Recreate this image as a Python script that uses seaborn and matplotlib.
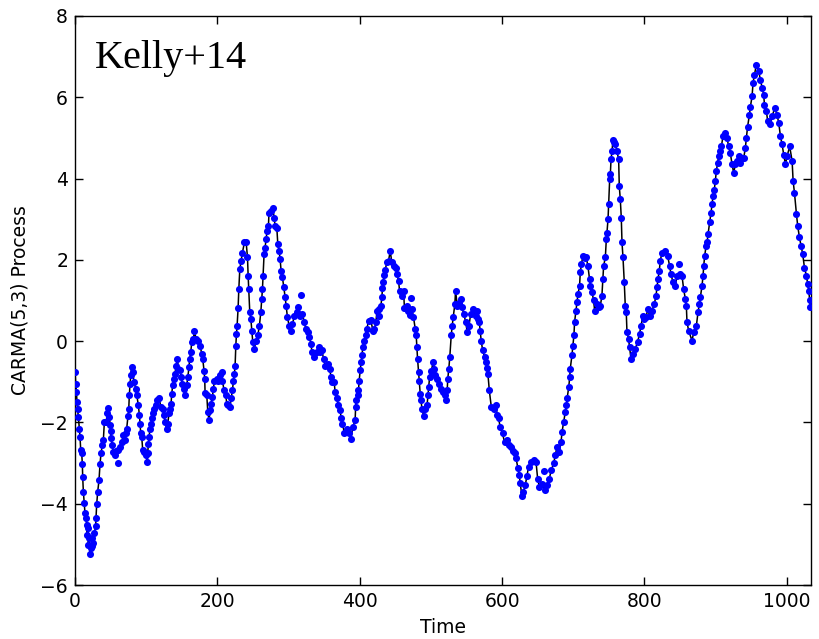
import numpy as np
import pandas as pd
import matplotlib
matplotlib.use("Agg")
import matplotlib.pyplot as plt
import seaborn as sns

# ---- data ----
time = [0, 1, 2, 2.8, 3.5, 4.7, 6, 7, 8, 9.4, 10.3, 10.8, 11.7, 13, 14, 15.5, 16.4, 17.3, 17.8, 18.7,
        19.7, 21, 22.5, 23.4, 24.5, 25.8, 27.2, 29, 29.5, 30.5, 31.9, 33.7, 35.1, 36.5, 38.4, 39.8, 41.2, 43.6, 45.4, 46.8,
        48.2, 49.5, 50.2, 50.6, 52.4, 53.8, 55.8, 58, 60.9, 63.2, 65.6, 68, 70.3, 71.7, 72.6, 74.5, 75.5, 76.3, 77.3, 78.3,
        79.7, 81, 82.9, 85.3, 86.7, 89, 90.4, 91.4, 92.3, 93.7, 95.1, 97, 99.3, 101.6, 102.1, 103, 104, 105.4, 106.8, 108.6,
        110, 111, 113.8, 115.7, 118.5, 120.4, 123.3, 125, 126.5, 128.8, 130.2, 132.1, 133.5, 134.9, 135.9, 137.3, 139.1, 140.5, 142, 143.8,
        145.2, 147.6, 149, 150.9, 152.8, 154.6, 157, 158.4, 160.2, 161, 162.6, 164, 166.3, 167.7, 170, 173.3, 175.7, 178, 179.4, 181.3,
        182.2, 182.7, 185.1, 186.5, 188.3, 189.7, 191.1, 193, 194.4, 195.8, 199.2, 201.4, 203.8, 206.2, 207, 209.4, 211.8, 213.2, 215.5, 217.8,
        219.3, 221.1, 222.5, 223.9, 224.9, 225.9, 226.8, 227.7, 229.1, 230.1, 231.5, 233.4, 235.2, 238, 240.4, 242.3, 243.2, 244.1, 245.5, 247,
        248.3, 249.7, 252.1, 254, 256.8, 259, 261, 262.4, 263.3, 264.2, 265.6, 267, 268.4, 269.8, 271.7, 272.5, 275, 277.8, 279.7, 281.1,
        283.5, 284.9, 286.7, 288.1, 289.5, 291.4, 293.3, 295.2, 296.6, 298.4, 300.8, 303.6, 305.4, 308.3, 311.6, 313.9, 316.3, 319.5, 322, 324.3,
        327.1, 329, 331.7, 332.7, 336, 339.8, 342.1, 344.5, 346.8, 349.1, 351.5, 355.2, 357.5, 359.8, 361.6, 364, 365.4, 367.8, 370.1, 372.5,
        373.9, 375.7, 378.5, 381.8, 384.2, 387.5, 390.3, 393.5, 394.2, 395, 397.4, 398.2, 399.2, 400.6, 402, 403, 404.4, 406.2, 408.1, 410,
        412.3, 415.6, 418.5, 420.7, 422.7, 424.1, 426.4, 427.7, 429.7, 431.1, 431.9, 432.9, 434.3, 435.7, 438.1, 440.4, 442.8, 445.1, 448.4, 451.2,
        452.1, 454.5, 455.9, 459.2, 461.5, 462.8, 466.2, 468.4, 470.8, 473.2, 475.5, 477.9, 479.3, 480.3, 481.2, 482.6, 483.6, 485, 486, 487.4,
        489.7, 492.1, 494.5, 495.9, 496.8, 498.2, 500.6, 503, 504.8, 506.2, 508.6, 511.9, 514.3, 517.1, 519.4, 521.8, 522.8, 523.7, 525.1, 526.5,
        528.5, 529.9, 531.3, 533.6, 534.6, 537, 539, 541.7, 543.1, 546.4, 548.7, 551.1, 553.5, 555.8, 559.6, 562.9, 564.6, 566.2, 567.9, 569.2,
        570.6, 572.5, 575.3, 577.2, 578.7, 580, 582, 584.8, 588, 591.3, 593, 595, 597.3, 600.6, 603.4, 606.7, 609, 611.9, 614.7, 617.4,
        619.5, 622.2, 624.1, 625.4, 627.8, 630, 632.5, 634.8, 637.1, 640.9, 644.2, 647.6, 649.9, 652.3, 656, 660.8, 663.1, 666.3, 669.1, 672.4,
        674.8, 677.1, 680.4, 682.8, 684.2, 686.5, 688.9, 690.3, 691.3, 693.6, 695, 695.7, 698.1, 699.5, 700.9, 701.8, 703.7, 705.2, 706.6, 708.8,
        709.8, 711.5, 713.5, 716, 718.2, 720.5, 722.8, 724, 726.2, 728.5, 730, 733.3, 735.5, 738, 740.2, 741.6, 742.6, 745, 746.4, 747.3,
        748.8, 749.7, 751.1, 752, 753, 754.4, 755.7, 757, 759, 761.4, 763.7, 764.6, 766, 767.4, 768.4, 769.8, 771.6, 773, 774.4, 775.4,
        777.6, 779, 781, 783.8, 787, 790.3, 793.1, 795.1, 797.9, 799.7, 802.5, 804.4, 807.2, 810.5, 813.8, 816.2, 817.5, 819, 820.8, 822.2,
        824.6, 829.2, 832.5, 835.3, 837.2, 840, 843.3, 845.7, 849.3, 852.7, 855, 857.4, 858.8, 859.7, 862, 866.8, 869.1, 872.9, 875.2, 877.1,
        878.5, 880.8, 882.3, 883.2, 884.6, 886.5, 887.9, 889.3, 891.5, 893.5, 894.9, 896.3, 898.1, 899.5, 900.9, 902.8, 904.2, 905.6, 908, 910.3,
        912.6, 916, 918.2, 920.6, 923, 925.3, 927.7, 930, 932.3, 934.7, 937, 939.3, 941.7, 943.1, 944.9, 947.4, 948.8, 951.1, 952.5, 954.4,
        957.2, 960.4, 962.8, 965.2, 967.5, 968.5, 971.3, 973.1, 976.9, 979.3, 983, 986.2, 988.6, 991, 993.3, 995.6, 998, 1000.3, 1004, 1007.4,
        1008.8, 1010.7, 1013.5, 1015.3, 1017.7, 1020, 1022.3, 1024.7, 1027.5, 1029.3, 1030.7, 1032.2, 1033.1]

value = [-0.75, -1.05, -1.25, -1.5, -1.66, -1.86, -2.15, -2.35, -2.68, -2.76, -3.03, -3.35, -3.7, -3.99, -4.23, -4.36, -4.52, -4.76, -4.6, -5.01,
         -4.85, -5.24, -5.1, -5.05, -4.85, -4.97, -4.72, -4.56, -4.34, -4.0, -3.7, -3.42, -3.03, -2.76, -2.56, -2.44, -1.99, -1.99, -1.78, -1.64,
         -1.86, -2.07, -2.2, -2.39, -2.56, -2.72, -2.8, -2.7, -2.68, -2.6, -2.48, -2.31, -2.44, -2.27, -2.15, -1.84, -1.66, -1.33, -1.05, -0.84,
         -0.64, -0.76, -1.0, -1.17, -1.33, -1.58, -1.82, -2.03, -2.27, -2.35, -2.68, -2.72, -2.8, -2.97, -2.74, -2.54, -2.35, -2.17, -2.03, -1.9,
         -1.78, -1.66, -1.58, -1.46, -1.41, -1.62, -1.66, -1.82, -1.99, -2.17, -2.03, -1.78, -1.66, -1.54, -1.29, -1.07, -0.92, -0.8, -0.6, -0.43,
         -0.68, -0.72, -0.88, -1.05, -1.17, -1.33, -1.09, -0.88, -0.64, -0.43, -0.27, -0.02, 0.06, 0.24, 0.06, 0.01, -0.11, -0.31, -0.43, -0.74,
         -0.92, -1.27, -1.33, -1.74, -1.95, -1.7, -1.54, -1.37, -1.17, -0.97, -0.92, -0.97, -0.84, -0.76, -0.97, -1.21, -1.33, -1.54, -1.58, -1.62,
         -1.41, -1.21, -0.99, -0.8, -0.6, -0.11, 0.18, 0.38, 0.81, 1.28, 1.77, 1.98, 2.18, 2.43, 2.43, 2.06, 1.61, 1.28, 0.71, 0.55,
         0.26, -0.02, -0.19, 0.01, 0.14, 0.38, 0.71, 1.04, 1.28, 1.61, 2.14, 2.3, 2.51, 2.71, 2.83, 3.16, 3.2, 3.28, 3.04, 2.83,
         2.79, 2.38, 2.22, 2.02, 1.73, 1.57, 1.32, 1.08, 0.86, 0.59, 0.38, 0.26, 0.42, 0.63, 0.71, 0.83, 0.63, 0.67, 0.47, 0.3,
         0.22, 0.1, -0.07, -0.27, -0.39, -0.27, -0.15, -0.27, -0.23, -0.43, -0.6, -0.56, -0.68, -0.88, -1.0, -1.0, -1.25, -1.41, -1.58, -1.7,
         -1.9, -2.03, -2.27, -2.15, -2.27, -2.41, -2.11, -1.95, -1.62, -1.46, -1.33, -1.21, -0.97, -0.72, -0.51, -0.35, -0.15, 0.01, 0.14, 0.3,
         0.5, 0.53, 0.24, 0.3, 0.47, 0.73, 0.61, 0.79, 0.87, 1.08, 1.3, 1.46, 1.63, 1.75, 1.94, 1.98, 2.21, 1.94, 1.85, 1.79,
         1.65, 1.49, 1.24, 1.1, 1.24, 0.81, 0.87, 0.75, 0.64, 0.79, 0.59, 0.3, 0.14, -0.15, -0.43, -0.76, -0.99, -1.31, -1.46, -1.66,
         -1.84, -1.66, -1.58, -1.33, -1.13, -0.88, -0.74, -0.51, -0.68, -0.84, -0.92, -1.05, -1.17, -1.25, -1.33, -1.46, -1.21, -0.92, -0.68, -0.39,
         0.14, 0.38, 0.59, 0.91, 1.24, 0.87, 0.95, 1.04, 0.83, 0.67, 0.47, 0.22, 0.38, 0.67, 0.79, 0.63, 0.75, 0.55, 0.47, 0.26,
         0.01, -0.21, -0.39, -0.51, -0.66, -0.8, -1.21, -1.62, -1.66, -1.58, -1.82, -1.9, -2.11, -2.27, -2.49, -2.44, -2.56, -2.6, -2.71, -2.75,
         -2.87, -3.13, -3.29, -3.5, -3.8, -3.7, -3.54, -3.33, -3.09, -2.97, -2.93, -2.97, -3.38, -3.58, -3.52, -3.66, -3.54, -3.38, -3.17, -3.01,
         -2.8, -2.6, -2.72, -2.48, -2.23, -1.99, -1.74, -1.58, -1.41, -1.13, -0.88, -0.68, -0.35, -0.11, 0.15, 0.47, 0.75, 0.96, 1.16, 1.36,
         1.69, 1.9, 2.1, 2.05, 2.06, 1.85, 1.53, 1.36, 1.22, 1.0, 0.75, 0.91, 0.83, 0.87, 1.12, 1.53, 1.85, 2.06, 2.51, 2.67,
         3.01, 3.37, 3.98, 4.1, 4.47, 4.67, 4.96, 4.9, 4.84, 4.67, 4.47, 3.81, 3.49, 3.04, 2.43, 2.06, 1.45, 0.87, 0.71, 0.22,
         0.06, -0.15, -0.43, -0.31, -0.19, -0.02, 0.18, 0.38, 0.63, 0.55, 0.59, 0.79, 0.63, 0.75, 0.91, 1.12, 1.32, 1.53, 1.73, 1.98,
         2.18, 2.22, 2.1, 1.85, 1.65, 1.45, 1.36, 1.61, 1.65, 1.61, 1.28, 1.04, 0.87, 0.47, 0.26, 0.01, 0.22, 0.38, 0.71, 0.91,
         1.08, 1.36, 1.61, 1.85, 2.1, 2.34, 2.43, 2.63, 2.92, 3.16, 3.37, 3.57, 3.73, 3.94, 4.18, 4.39, 4.55, 4.67, 4.79, 5.04,
         5.12, 5.0, 4.79, 4.63, 4.35, 4.14, 4.35, 4.43, 4.55, 4.39, 4.51, 4.5, 4.75, 5.0, 5.28, 5.57, 5.77, 6.02, 6.35, 6.55,
         6.8, 6.65, 6.43, 6.24, 6.06, 5.82, 5.65, 5.41, 5.33, 5.53, 5.74, 5.57, 5.37, 5.04, 4.84, 4.59, 4.35, 4.55, 4.79, 4.43,
         3.94, 3.65, 3.12, 2.83, 2.55, 2.34, 2.14, 1.81, 1.61, 1.4, 1.24, 1.0, 0.83]

# isolated observations lying off the line
extra_time = [60.0, 317.3, 472.3, 658.4, 848.0]
extra_value = [-2.99, 1.13, 1.06, -3.2, 1.89]

x_ticks = [0, 200, 400, 600, 800, 1000]
y_ticks = [-6, -4, -2, 0, 2, 4, 6, 8]

line_df = pd.DataFrame({"Time": time, "Value": value})
dots_df = pd.DataFrame({"Time": time + extra_time, "Value": value + extra_value})

sns.set_style("ticks")
plt.rcParams["font.family"] = ["DejaVu Sans"]
plt.rcParams["xtick.direction"] = "in"
plt.rcParams["ytick.direction"] = "in"
for key in ["text.color", "axes.labelcolor", "xtick.color", "ytick.color", "axes.edgecolor"]:
    plt.rcParams[key] = "black"

fig = plt.figure(figsize=(8.19, 6.39), dpi=100)
ax = fig.add_axes([0.0916, 0.0845, 0.8987, 0.8905])

sns.lineplot(data=line_df, x="Time", y="Value", color="black", linewidth=1.1,
             sort=False, estimator=None, ax=ax, zorder=2)
sns.scatterplot(data=dots_df, x="Time", y="Value", color="#0000ff", s=26,
                edgecolor="#0000ff", linewidth=0, ax=ax, zorder=3)

ax.set_xlim(0, 1034)
ax.set_ylim(-6, 8)
ax.set_xticks(x_ticks)
ax.set_yticks(y_ticks)
ax.tick_params(axis="both", which="major", labelsize=13.5, length=6, width=1,
               top=True, right=True, direction="in", pad=5,
               colors="black")
for s in ax.spines.values():
    s.set_linewidth(1.0)
    s.set_color("black")
ax.set_xlabel("Time", fontsize=13.5, labelpad=5, color="black")
ax.set_ylabel("CARMA(5,3) Process", fontsize=13.5, labelpad=8, color="black")

ax.text(0.027, 0.908, "Kelly+14", transform=ax.transAxes, fontsize=29,
        family="Liberation Serif", va="baseline", ha="left", color="black")

fig.savefig("out.png", dpi=100)
